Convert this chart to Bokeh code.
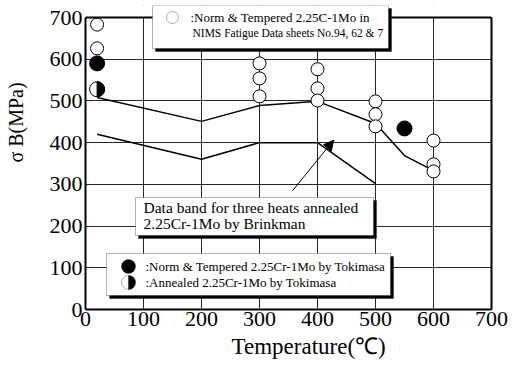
import math
from bokeh.plotting import figure
from bokeh.models import (BoxAnnotation, Label, Arrow, NormalHead, Range1d, FixedTicker,
                          LinearAxis, Span)
from bokeh.embed import file_html
from bokeh.resources import INLINE

# ---------------- data ----------------
tick_values = [0, 100, 200, 300, 400, 500, 600, 700]

# Norm & Tempered 2.25Cr-1Mo, NIMS Fatigue Data sheets (open circles)
nims_temp = [20, 20, 300, 300, 300, 400, 400, 400, 500, 500, 500, 600, 600, 600]
nims_sb = [683, 626, 590, 554, 511, 576, 530, 501, 499, 468, 439, 405, 348, 331]

# Norm & Tempered by Tokimasa (filled circles)
toki_nt_temp = [20, 550]
toki_nt_sb = [590, 434]

# Annealed by Tokimasa (half filled)
toki_an_temp = [20]
toki_an_sb = [528]

# Brinkman data band
band_up_temp = [20, 200, 300, 400, 500, 550, 600]
band_up_sb = [508, 451, 489, 499, 446, 369, 333]
band_lo_temp = [20, 200, 300, 400, 500]
band_lo_sb = [420, 360, 400, 400, 302]

# ---------------- helpers (picture px -> data) ----------------
X0, X1, Y0, Y1 = 85.0, 491.0, 309.0, 17.0
def dx(px):
    return (px - X0) / (X1 - X0) * 700.0
def dy(py):
    return (Y0 - py) / (Y0 - Y1) * 700.0
SX = dx(X0 + 3) - dx(X0)
SY = dy(Y0) - dy(Y0 + 3)

FONT = "Liberation Serif"
NB = "\u00a0"
TOP_PX = 5  # frame extends above 700 so that the top legend box can overflow

p = figure(width=515, height=366, output_backend="svg", toolbar_location=None,
           x_range=Range1d(0, 700), y_range=Range1d(0, dy(TOP_PX)),
           min_border_left=85, min_border_right=24, min_border_top=TOP_PX,
           min_border_bottom=57)
p.background_fill_color = "white"
p.border_fill_color = "white"
p.outline_line_color = None

for ax in (p.xaxis[0], p.yaxis[0]):
    ax.ticker = FixedTicker(ticks=tick_values)
    ax.major_tick_line_color = None
    ax.minor_tick_line_color = None
    ax.major_tick_out = 0
    ax.major_tick_in = 0
    ax.axis_line_color = "black"
    ax.axis_line_width = 2
    ax.major_label_text_font = FONT
    ax.major_label_text_font_size = "22px"
    ax.major_label_text_color = "black"
    ax.bounds = (0, 700)
p.xaxis.major_label_standoff = 2
p.yaxis.major_label_standoff = 3

def bare_axis(**kw):
    return LinearAxis(ticker=FixedTicker(ticks=[]), major_tick_line_color=None,
                      minor_tick_line_color=None, major_tick_out=0, major_tick_in=0,
                      major_label_standoff=0, **kw)

# right frame edge
p.add_layout(bare_axis(bounds=(0, 700), axis_line_color="black", axis_line_width=2),
             "right")

# axis titles (leading no-break spaces shift them along the axis as in the reference)
p.add_layout(bare_axis(bounds=(0, 700), axis_line_color=None,
                       axis_label=NB * 7 + "Temperature(℃)", axis_label_standoff=5,
                       axis_label_text_font=FONT, axis_label_text_font_size="23px",
                       axis_label_text_font_style="normal",
                       axis_label_text_color="black"), "below")
p.add_layout(bare_axis(bounds=(0, 700), axis_line_color=None,
                       axis_label=NB * 14 + "σ B(MPa)", axis_label_standoff=20,
                       axis_label_text_font=FONT, axis_label_text_font_size="20px",
                       axis_label_text_font_style="normal",
                       axis_label_text_color="black"), "left")

p.xgrid.ticker = FixedTicker(ticks=tick_values)
p.ygrid.ticker = FixedTicker(ticks=tick_values)
p.grid.grid_line_color = "black"
p.grid.grid_line_alpha = 0.85
p.grid.grid_line_width = 1

# band lines
p.line(band_up_temp, band_up_sb, line_color="black", line_width=1.5)
p.line(band_lo_temp, band_lo_sb, line_color="black", line_width=1.5)

# markers
p.scatter(nims_temp, nims_sb, marker="circle", size=13, fill_color="white",
          line_color="black", line_width=1)
p.scatter(toki_nt_temp, toki_nt_sb, marker="circle", size=15, fill_color="black",
          line_color="black", line_width=1)
p.scatter(toki_an_temp, toki_an_sb, marker="circle", size=15, fill_color="white",
          line_color="black", line_width=1)
p.wedge(toki_an_temp, toki_an_sb, radius=7.5, radius_units="screen",
        start_angle=-math.pi / 2, end_angle=math.pi / 2,
        fill_color="black", line_color="black")

# hide grid above 700 and draw top frame edge
p.add_layout(BoxAnnotation(bottom=700, fill_color="white", fill_alpha=1,
                           line_color=None))
p.add_layout(Span(location=700, dimension="width", line_color="black", line_width=2))

# arrow
p.add_layout(Arrow(end=NormalHead(size=10, fill_color="black", line_color="black"),
                   x_start=357, y_start=285, x_end=428, y_end=406,
                   line_color="black", line_width=1))

def box(l, r, t, b):
    p.add_layout(BoxAnnotation(left=dx(l) + SX, right=dx(r) + SX,
                               top=dy(t) - SY, bottom=dy(b) - SY,
                               fill_color="black", fill_alpha=1, line_color="black"))
    p.add_layout(BoxAnnotation(left=dx(l), right=dx(r), top=dy(t), bottom=dy(b),
                               fill_color="white", fill_alpha=1, line_color="black",
                               line_width=1))

def disk(cx, cy, r, fill, half=False):
    if half:
        p.add_layout(BoxAnnotation(left=dx(cx), right=dx(cx + r), top=dy(cy - r),
                                   bottom=dy(cy + r), fill_color=fill, fill_alpha=1,
                                   line_color=fill, border_radius=(0, r, r, 0)))
    else:
        p.add_layout(BoxAnnotation(left=dx(cx - r), right=dx(cx + r), top=dy(cy - r),
                                   bottom=dy(cy + r), fill_color=fill, fill_alpha=1,
                                   line_color="black", line_width=1, border_radius=r))

def text(px, py, s, size="15px", align="left", angle=0.0, font=FONT):
    p.add_layout(Label(x=dx(px), y=dy(py), text=s, text_font=font,
                       text_font_size=size, text_align=align,
                       text_baseline="middle", text_color="black", angle=angle))

# top legend box
box(152, 388, 5, 48)
disk(172, 17, 6, "white")
text(190, 17, ":Norm & Tempered 2.25C-1Mo in", size="13px")
text(192, 32, "NIMS Fatigue Data sheets No.94, 62 & 7", size="11.5px")

# middle box
box(135, 373, 197, 235)
text(143, 207, "Data band for three heats annealed", size="15.5px")
text(143, 223, "2.25Cr-1Mo by Brinkman", size="15.5px")

# bottom legend box
box(106, 390, 253, 295)
disk(128, 266, 7, "black")
disk(128, 282, 7, "white")
disk(128, 282, 7, "black", half=True)
text(145, 266, ":Norm & Tempered 2.25Cr-1Mo by Tokimasa", size="13px")
text(145, 282, ":Annealed 2.25Cr-1Mo by Tokimasa", size="13px")

open("out.html", "w").write(file_html(p, INLINE))
